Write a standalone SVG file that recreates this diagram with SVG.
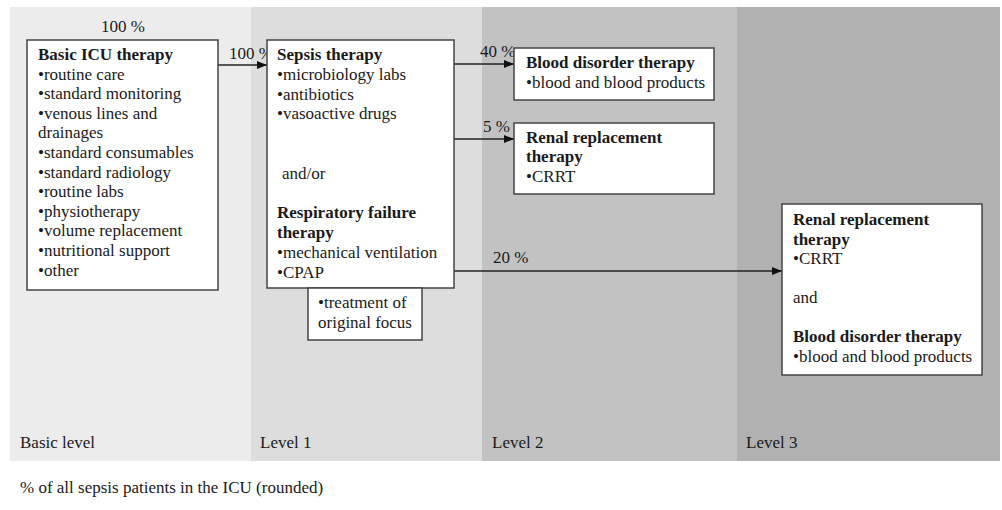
<svg xmlns="http://www.w3.org/2000/svg" width="1002" height="510" viewBox="0 0 1002 510">
<style>
text{font-family:"Liberation Serif","Times New Roman",serif;font-size:17px;fill:#1a1a1a}
.b{font-weight:bold}
.box{fill:#fff;stroke:#444;stroke-width:1.5}
.conn line{stroke:#222;stroke-width:1.3}
</style>
<defs>
<marker id="ah" markerWidth="10" markerHeight="8" refX="10" refY="4" orient="auto" markerUnits="userSpaceOnUse">
<path d="M0,0 L10,4 L0,8 Z" fill="#111"/>
</marker>
</defs>
<g id="bands">
<rect x="10" y="7" width="241" height="454" fill="#ececec"/>
<rect x="251" y="7" width="231" height="454" fill="#dddddd"/>
<rect x="482" y="7" width="255" height="454" fill="#c2c2c2"/>
<rect x="737" y="7" width="263" height="454" fill="#b1b1b1"/>
<text x="20" y="448">Basic level</text>
<text x="260" y="448">Level 1</text>
<text x="492" y="448">Level 2</text>
<text x="746" y="448">Level 3</text>
</g>
<g id="connectors" class="conn">
<line x1="218" y1="65" x2="267" y2="65" marker-end="url(#ah)"/>
<line x1="454" y1="64" x2="514" y2="64" marker-end="url(#ah)"/>
<line x1="454" y1="139" x2="514" y2="139" marker-end="url(#ah)"/>
<line x1="454" y1="271" x2="782" y2="271" marker-end="url(#ah)"/>
<text x="123" y="32" text-anchor="middle">100 %</text>
<text x="229" y="59">100 %</text>
<text x="480" y="57">40 %</text>
<text x="483" y="132">5 %</text>
<text x="493" y="263">20 %</text>
</g>
<g id="basic">
<rect class="box" x="27" y="40" width="191" height="250"/>
<text x="38" y="60" class="b">Basic ICU therapy</text>
<text x="38" y="79.6">•routine care</text>
<text x="38" y="99.2">•standard monitoring</text>
<text x="38" y="118.8">•venous lines and</text>
<text x="38" y="138.4">drainages</text>
<text x="38" y="158">•standard consumables</text>
<text x="38" y="177.6">•standard radiology</text>
<text x="38" y="197.2">•routine labs</text>
<text x="38" y="216.8">•physiotherapy</text>
<text x="38" y="236.4">•volume replacement</text>
<text x="38" y="256">•nutritional support</text>
<text x="38" y="275.6">•other</text>
</g>
<g id="sepsis">
<rect class="box" x="267" y="40" width="187" height="248"/>
<text x="277" y="60" class="b">Sepsis therapy</text>
<text x="277" y="79.8">•microbiology labs</text>
<text x="277" y="99.6">•antibiotics</text>
<text x="277" y="119.4">•vasoactive drugs</text>
<text x="282" y="178.8">and/or</text>
<text x="277" y="218.4" class="b">Respiratory failure</text>
<text x="277" y="238.2" class="b">therapy</text>
<text x="277" y="258">•mechanical ventilation</text>
<text x="277" y="277.8">•CPAP</text>
</g>
<g id="focus">
<rect class="box" x="308" y="288" width="114" height="52"/>
<text x="318" y="308">•treatment of</text>
<text x="318" y="328">original focus</text>
</g>
<g id="blood">
<rect class="box" x="514" y="48" width="200" height="52"/>
<text x="526" y="68" class="b">Blood disorder therapy</text>
<text x="526" y="88">•blood and blood products</text>
</g>
<g id="renal">
<rect class="box" x="514" y="123" width="200" height="71"/>
<text x="526" y="143" class="b">Renal replacement</text>
<text x="526" y="162" class="b">therapy</text>
<text x="526" y="182">•CRRT</text>
</g>
<g id="level3">
<rect class="box" x="782" y="204" width="200" height="171"/>
<text x="793" y="225" class="b">Renal replacement</text>
<text x="793" y="244.5" class="b">therapy</text>
<text x="793" y="264">•CRRT</text>
<text x="793" y="303">and</text>
<text x="793" y="342" class="b">Blood disorder therapy</text>
<text x="793" y="361.5">•blood and blood products</text>
</g>
<text x="20" y="493">% of all sepsis patients in the ICU (rounded)</text>
</svg>
